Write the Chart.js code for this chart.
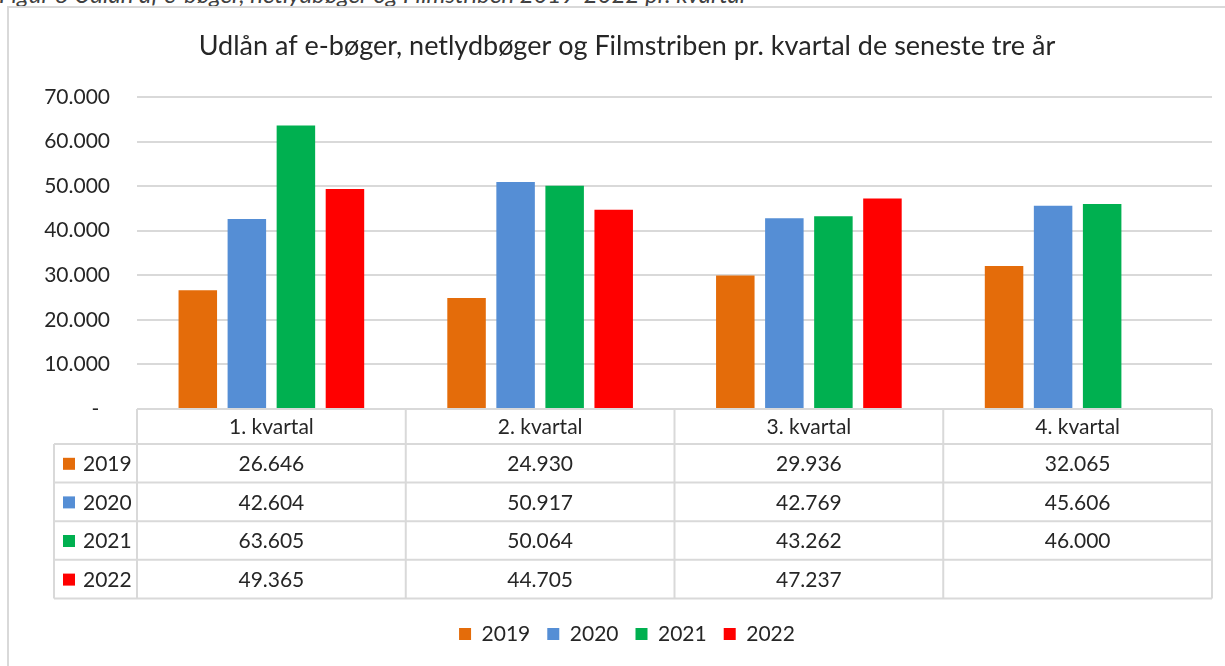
<!DOCTYPE html>
<html lang="da">
<head>
<meta charset="utf-8">
<title>Udlån pr. kvartal</title>
<script src="https://cdn.jsdelivr.net/npm/chart.js@4/dist/chart.umd.min.js"></script>
<style>
  html, body { margin: 0; padding: 0; background: #fff; overflow: hidden; }
  body { width: 1225px; height: 666px; position: relative; font-family: Lato, sans-serif; }
  .caption {
    position: absolute; left: -1px; top: -18px;
    font-size: 24px; line-height: 24px; font-style: italic; color: #404040;
    white-space: nowrap;
  }
  .frame {
    position: absolute; left: 7px; top: 6px; width: 1240px; height: 700px;
    border: 2px solid #d9d9d9; box-sizing: border-box;
  }
  #chart { position: absolute; left: 0; top: 0; }
</style>
</head>
<body>
<div class="caption">Figur 8 Udlån af e-bøger, netlydbøger og Filmstriben 2019-2022 pr. kvartal</div>
<div class="frame"></div>
<canvas id="chart" width="1225" height="666"></canvas>
<script>
  // ---------- data ----------
  const categories = ['1. kvartal', '2. kvartal', '3. kvartal', '4. kvartal'];
  const years = ['2019', '2020', '2021', '2022'];
  const v2019 = [26646, 24930, 29936, 32065];
  const v2020 = [42604, 50917, 42769, 45606];
  const v2021 = [63605, 50064, 43262, 46000];
  const v2022 = [49365, 44705, 47237, null];
  const yTicks = [0, 10000, 20000, 30000, 40000, 50000, 60000, 70000];

  const colors = ['#e46c0a', '#558ed5', '#00b050', '#ff0000'];
  const seriesValues = [v2019, v2020, v2021, v2022];

  const textColor = '#262626';
  const lineColor = '#d9d9d9';
  const fontFamily = 'Lato, "Open Sans", sans-serif';

  // dansk talformat: 26.646
  function fmt(n) {
    if (n === null || n === undefined) return '';
    return String(Math.round(n)).replace(/\B(?=(\d{3})+(?!\d))/g, '.');
  }

  // datatabel under grafen, tegnet ud fra x-aksens kategorier
  const dataTablePlugin = {
    id: 'dataTable',
    afterDraw(chart) {
      const ctx = chart.ctx;
      const xs = chart.scales.x;
      const area = chart.chartArea;
      const colW = (area.right - area.left) / categories.length;
      const top = area.bottom;
      const headH = 35;
      const rowH = 38.6;
      const labelLeft = 54;
      const bottom = top + headH + rowH * years.length;

      ctx.save();
      ctx.strokeStyle = lineColor;
      ctx.lineWidth = 2;

      // vandrette linjer
      ctx.beginPath();
      ctx.moveTo(area.left, top);
      ctx.lineTo(area.right, top);
      for (let r = 0; r <= years.length; r++) {
        const y = top + headH + rowH * r;
        ctx.moveTo(labelLeft, y);
        ctx.lineTo(area.right, y);
      }
      // lodrette linjer
      ctx.moveTo(labelLeft, top + headH);
      ctx.lineTo(labelLeft, bottom);
      for (let c = 0; c <= categories.length; c++) {
        const x = area.left + colW * c;
        ctx.moveTo(x, top);
        ctx.lineTo(x, bottom);
      }
      ctx.stroke();

      ctx.font = '21px ' + fontFamily;
      ctx.fillStyle = textColor;
      ctx.textAlign = 'center';
      ctx.textBaseline = 'middle';

      // kolonneoverskrifter
      categories.forEach((cat, i) => {
        ctx.fillText(cat, xs.getPixelForValue(i), top + headH / 2 + 1);
      });

      // rækker
      years.forEach((yr, r) => {
        const cy = top + headH + rowH * r + rowH / 2 + 1;
        ctx.fillStyle = colors[r];
        ctx.fillRect(63, cy - 6.5, 12, 12);
        ctx.fillStyle = textColor;
        ctx.textAlign = 'left';
        ctx.fillText(yr, 83, cy);
        ctx.textAlign = 'center';
        seriesValues[r].forEach((v, i) => {
          ctx.fillText(fmt(v), xs.getPixelForValue(i), cy);
        });
      });
      ctx.restore();
    }
  };

  const ctx = document.getElementById('chart').getContext('2d');
  const chart = new Chart(ctx, {
    type: 'bar',
    data: {
      labels: categories,
      datasets: years.map((yr, i) => ({
        label: yr,
        data: seriesValues[i],
        backgroundColor: colors[i],
        borderWidth: 0,
        categoryPercentage: 0.73,
        barPercentage: 0.785
      }))
    },
    options: {
      responsive: false,
      devicePixelRatio: 1,
      animation: false,
      layout: { padding: { left: 42, right: 13, top: 0, bottom: 11.5 } },
      plugins: {
        title: {
          display: true,
          text: 'Udlån af e-bøger, netlydbøger og Filmstriben pr. kvartal de seneste tre år',
          color: textColor,
          font: { family: fontFamily, size: 27, weight: 'normal' },
          padding: { top: 29.8, bottom: 34.8 }
        },
        legend: {
          position: 'bottom',
          labels: {
            color: textColor,
            font: { family: fontFamily, size: 21 },
            boxWidth: 12,
            boxHeight: 12,
            padding: 17
          }
        },
        tooltip: { enabled: false }
      },
      scales: {
        x: {
          grid: { display: false },
          border: { display: false },
          ticks: { display: false },
          afterFit(scale) { scale.height = 197.5; }
        },
        y: {
          min: 0,
          max: 70000,
          afterBuildTicks(scale) { scale.ticks = yTicks.map(v => ({ value: v })); },
          afterFit(scale) { scale.width = 95; },
          grid: { color: lineColor, lineWidth: 2, drawTicks: false },
          border: { display: false },
          ticks: {
            color: textColor,
            font: { family: fontFamily, size: 21 },
            padding: 27,
            callback: (v) => v === 0 ? '-  ' : fmt(v)
          }
        }
      }
    },
    plugins: [dataTablePlugin]
  });
</script>
</body>
</html>
